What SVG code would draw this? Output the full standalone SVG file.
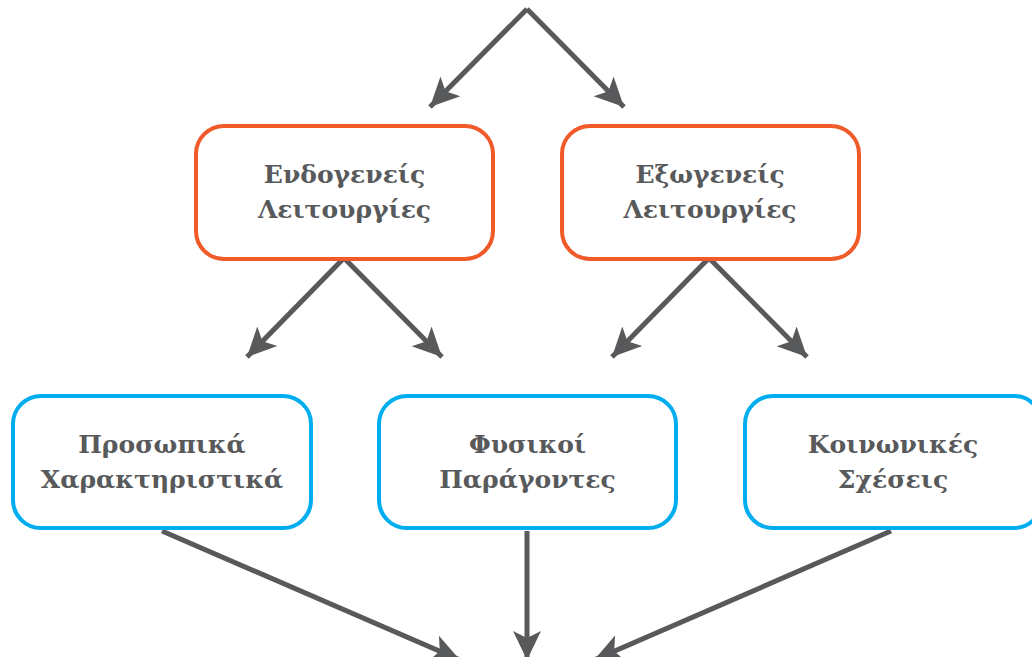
<svg xmlns="http://www.w3.org/2000/svg" width="1032" height="657" viewBox="0 0 1032 657">
<defs>
<style>
.lbl{font-family:"DejaVu Serif","Liberation Serif",serif;font-weight:bold;font-size:25px;fill:#58595b;text-anchor:middle}
.or{fill:#fff;stroke:#f15a29;stroke-width:4}
.bl{fill:#fff;stroke:#00aeef;stroke-width:4}
.cn{stroke:#58595b;stroke-width:5;fill:none;marker-end:url(#ah)}
</style>
<marker id="ah" markerUnits="userSpaceOnUse" markerWidth="32" markerHeight="32" viewBox="0 0 32 32" refX="29" refY="16" orient="auto">
<path d="M29 16 L0 2 L7 16 L0 30 Z" fill="#58595b"/>
</marker>
</defs>
<rect width="1032" height="657" fill="#fff"/>
<g id="connectors">
<path class="cn" d="M527 9 L430 107"/>
<path class="cn" d="M527 9 L624 107"/>
<path class="cn" d="M344 258 L247 357"/>
<path class="cn" d="M344 258 L442 357"/>
<path class="cn" d="M709 258 L612 357"/>
<path class="cn" d="M709 258 L807 357"/>
<path class="cn" d="M162 531 L460 660"/>
<path class="cn" d="M527 531 L527 660"/>
<path class="cn" d="M891 531 L594 660"/>
</g>
<g id="n-endo">
<rect class="or" x="196" y="126" width="297" height="133" rx="28"/>
<text class="lbl" x="344.5" y="183">Ενδογενείς</text>
<text class="lbl" x="344.5" y="218">Λειτουργίες</text>
</g>
<g id="n-exo">
<rect class="or" x="562" y="126" width="297" height="133" rx="28"/>
<text class="lbl" x="710" y="183">Εξωγενείς</text>
<text class="lbl" x="710" y="218">Λειτουργίες</text>
</g>
<g id="n-pros">
<rect class="bl" x="13" y="396" width="298" height="132" rx="28"/>
<text class="lbl" x="162" y="453">Προσωπικά</text>
<text class="lbl" x="162" y="488">Χαρακτηριστικά</text>
</g>
<g id="n-fys">
<rect class="bl" x="379" y="396" width="297" height="132" rx="28"/>
<text class="lbl" x="527.5" y="453">Φυσικοί</text>
<text class="lbl" x="527.5" y="488">Παράγοντες</text>
</g>
<g id="n-koin">
<rect class="bl" x="745" y="396" width="297" height="132" rx="28"/>
<text class="lbl" x="893" y="453">Κοινωνικές</text>
<text class="lbl" x="893" y="488">Σχέσεις</text>
</g>
</svg>
